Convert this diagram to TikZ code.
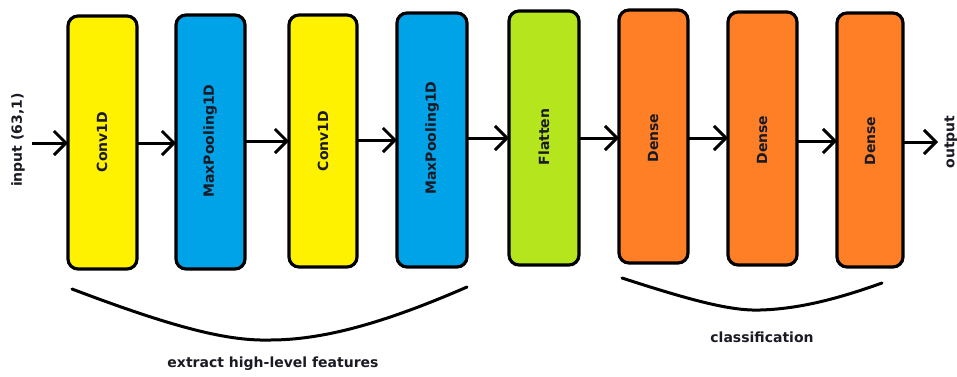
\documentclass[tikz,border=0pt]{standalone}
\usepackage{fontspec}
\setmainfont{DejaVu Sans}
\usetikzlibrary{arrows.meta}
\definecolor{convyellow}{HTML}{FFF200}
\definecolor{poolblue}{HTML}{00A2E8}
\definecolor{flatgreen}{HTML}{B5E61D}
\definecolor{denseorange}{HTML}{FF7F27}
\definecolor{inkdark}{HTML}{1A1A24}
\begin{document}
\begin{tikzpicture}[x=1pt,y=-1pt,
  layer/.style={draw=black, line width=3.2pt, rounded corners=10pt},
  lbl/.style={font=\bfseries\fontsize{14}{16}\selectfont, text=inkdark, rotate=90},
  flow/.style={line width=3pt, -{Straight Barb[length=12pt,width=24pt,line width=3pt]}},
  brace/.style={line width=3pt, line cap=round},
  note/.style={font=\bfseries\fontsize{14}{16}\selectfont, text=inkdark}]
\useasboundingbox (0,0) rectangle (957,376);
% layer blocks (x0, y0, x1, y1)
\foreach \n/\xa/\ya/\xb/\yb/\c in {
  c1/68/16/137/269/convyellow,
  p1/176/15/245/269/poolblue,
  c2/289/15/357/267/convyellow,
  p2/397/13/467/267/poolblue,
  fl/509/11/579/265/flatgreen,
  d1/619/10/688/263/denseorange,
  d2/728/12/797/265/denseorange,
  d3/837/13/903/267/denseorange}
  \path[layer, fill=\c] (\xa,\ya) rectangle (\xb,\yb) coordinate[pos=0.5] (\n);
% block captions
\node[lbl] (t1) at (102,142) {Conv1D};
\node[lbl] (t2) at (210,141) {MaxPooling1D};
\node[lbl] (t3) at (323,141) {Conv1D};
\node[lbl] (t4) at (432,138) {MaxPooling1D};
\node[lbl] (t5) at (544,137) {Flatten};
\node[lbl] (t6) at (653,138) {Dense};
\node[lbl] (t7) at (762,140) {Dense};
\node[lbl] (t8) at (870,141) {Dense};
% input / output labels
\node[lbl] (in) at (18,140) {input (63,1)};
\node[lbl] (out) at (951,142) {output};
\coordinate (inS) at (32,143);
\coordinate (outE) at (938,142);
% connectors
\draw[flow] (inS) -- (68,143);
\draw[flow] (137,143) -- (176,143);
\draw[flow] (245,141) -- (289,141);
\draw[flow] (357,140) -- (397,140);
\draw[flow] (467,138) -- (509,138);
\draw[flow] (579,138) -- (619,138);
\draw[flow] (688,138) -- (728,138);
\draw[flow] (797,141) -- (837,141);
\draw[flow] (903,142) -- (outE);
% group braces
\coordinate (b1a) at (72,289);
\coordinate (b1b) at (467,287);
\coordinate (b2a) at (622,278);
\coordinate (b2b) at (882,283);
\draw[brace] (b1a) .. controls (180,330) and (230,341) .. (270,340)
  .. controls (320,340) and (380,325) .. (b1b);
\draw[brace] (b2a) .. controls (690,300) and (730,311) .. (760,310)
  .. controls (800,309) and (840,298) .. (b2b);
\node[note] (g1) at (273,364) {extract high-level features};
\node[note] (g2) at (762,337) {classification};
\end{tikzpicture}
\end{document}
